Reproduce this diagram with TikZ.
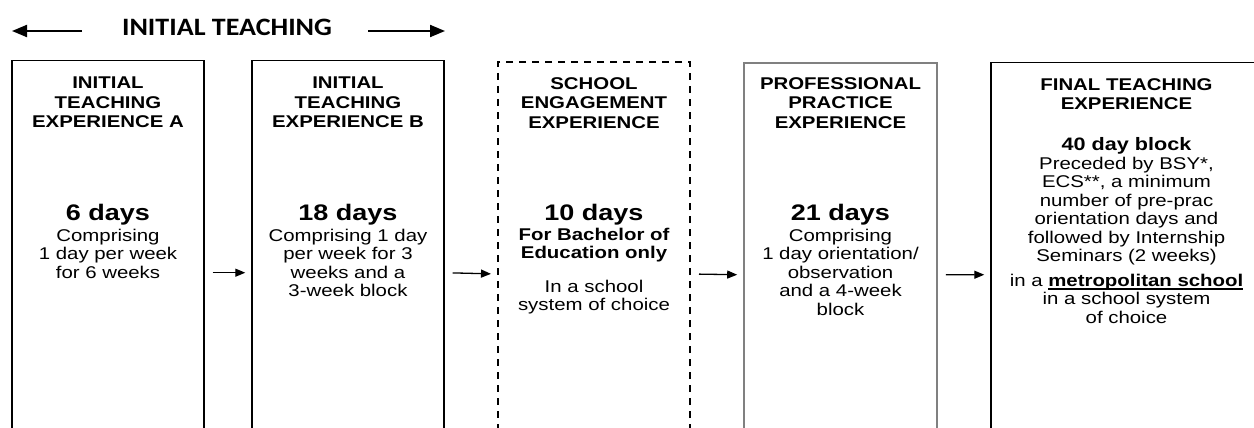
\documentclass[tikz,border=0pt]{standalone}
\usepackage{fontspec}
\setmainfont{Liberation Sans}[FakeStretch=1.2]
\newfontfamily\calfont{Carlito}[FakeStretch=1.12]
\usetikzlibrary{arrows.meta}
\newsavebox{\myulbox}
\newcommand{\myuline}[1]{\sbox{\myulbox}{#1}\rlap{\rule[-3.5pt]{\wd\myulbox}{1.8pt}}\usebox{\myulbox}}
\begin{document}
\begin{tikzpicture}[x=1pt,y=-1pt,
  boxstyle/.style={draw=black, line width=1.4pt, minimum height=424pt, inner sep=0pt, anchor=north},
  dashbox/.style={boxstyle, line width=2pt, dash pattern=on 7pt off 6pt},
  graybox/.style={boxstyle, draw=black!50, line width=1.6pt},
  headtxt/.style={font=\bfseries\fontsize{17}{19.5}\selectfont, align=center, anchor=north, inner sep=0pt},
  daystxt/.style={font=\bfseries\fontsize{22.5}{26}\selectfont, align=center, anchor=north, inner sep=0pt},
  bodytxt/.style={font=\fontsize{17}{18.4}\selectfont, align=center, anchor=north, inner sep=0pt},
  boldbody/.style={font=\bfseries\fontsize{17}{18.4}\selectfont, align=center, anchor=north, inner sep=0pt},
  smallarr/.style={-{Triangle[length=10pt,width=8pt]}, line width=1.3pt, shorten <=8pt, shorten >=6pt},
  bigarr/.style={-{Triangle[length=15pt,width=12pt]}, line width=2pt}
]
\clip (0,0) rectangle (1254,428);
% title
\node[font=\calfont\bfseries\fontsize{25}{28}\selectfont, inner sep=0pt] (title) at (227,27) {INITIAL TEACHING};
\coordinate (la) at (82,31);
\coordinate (lb) at (12,31);
\coordinate (ra) at (368,31);
\coordinate (rb) at (445,31);
\draw[bigarr] (la) -- (lb);
\draw[bigarr] (ra) -- (rb);
% boxes
\node[boxstyle, minimum width=192pt] (A) at (108,60) {};
\node[boxstyle, minimum width=192pt] (B) at (348,60) {};
\node[dashbox, minimum width=192pt] (C) at (594,61) {};
\node[graybox, minimum width=193pt] (D) at (840.5,62) {};
\node[boxstyle, minimum width=271pt] (E) at (1126.5,62) {};
% arrows
\draw[smallarr] (A.east) -- (B.west);
\draw[smallarr] (B.east) -- (C.west);
\draw[smallarr] (C.east) -- (D.west);
\draw[smallarr] (D.east) -- (E.west);
% box A text
\node[headtxt] (hA) at (108,77) {INITIAL\\TEACHING\\EXPERIENCE A};
\node[daystxt] (dA) at (108,204) {6 days};
\node[bodytxt] (bA) at (108,229) {Comprising\\1 day per week\\for 6 weeks};
% box B text
\node[headtxt] (hB) at (348,77) {INITIAL\\TEACHING\\EXPERIENCE B};
\node[daystxt] (dB) at (348,204) {18 days};
\node[bodytxt] (bB) at (348,229) {Comprising 1 day\\per week for 3\\weeks and a\\3-week block};
% box C text
\node[headtxt] (hC) at (594,77) {SCHOOL\\ENGAGEMENT\\EXPERIENCE};
\node[daystxt] (dC) at (594,204) {10 days};
\node[boldbody] (bC) at (594,228) {For Bachelor of\\Education only};
\node[bodytxt] (sC) at (594,280) {In a school\\system of choice};
% box D text
\node[headtxt] (hD) at (840.5,77) {PROFESSIONAL\\PRACTICE\\EXPERIENCE};
\node[daystxt] (dD) at (840.5,204) {21 days};
\node[bodytxt] (bD) at (840.5,229) {Comprising\\1 day orientation/\\observation\\and a 4-week\\block};
% box E text
\node[headtxt] (hE) at (1126.5,78) {FINAL TEACHING\\EXPERIENCE};
\node[boldbody, font=\bfseries\fontsize{18}{20}\selectfont] (dE) at (1126.5,137) {40 day block};
\node[bodytxt] (bE) at (1126.5,157) {Preceded by BSY*,\\ECS**, a minimum\\number of pre-prac\\orientation days and\\followed by Internship\\Seminars (2 weeks)};
\node[bodytxt] (mE) at (1126.5,274) {in a \myuline{\textbf{metropolitan school}}\\in a school system\\of choice};
\end{tikzpicture}
\end{document}
